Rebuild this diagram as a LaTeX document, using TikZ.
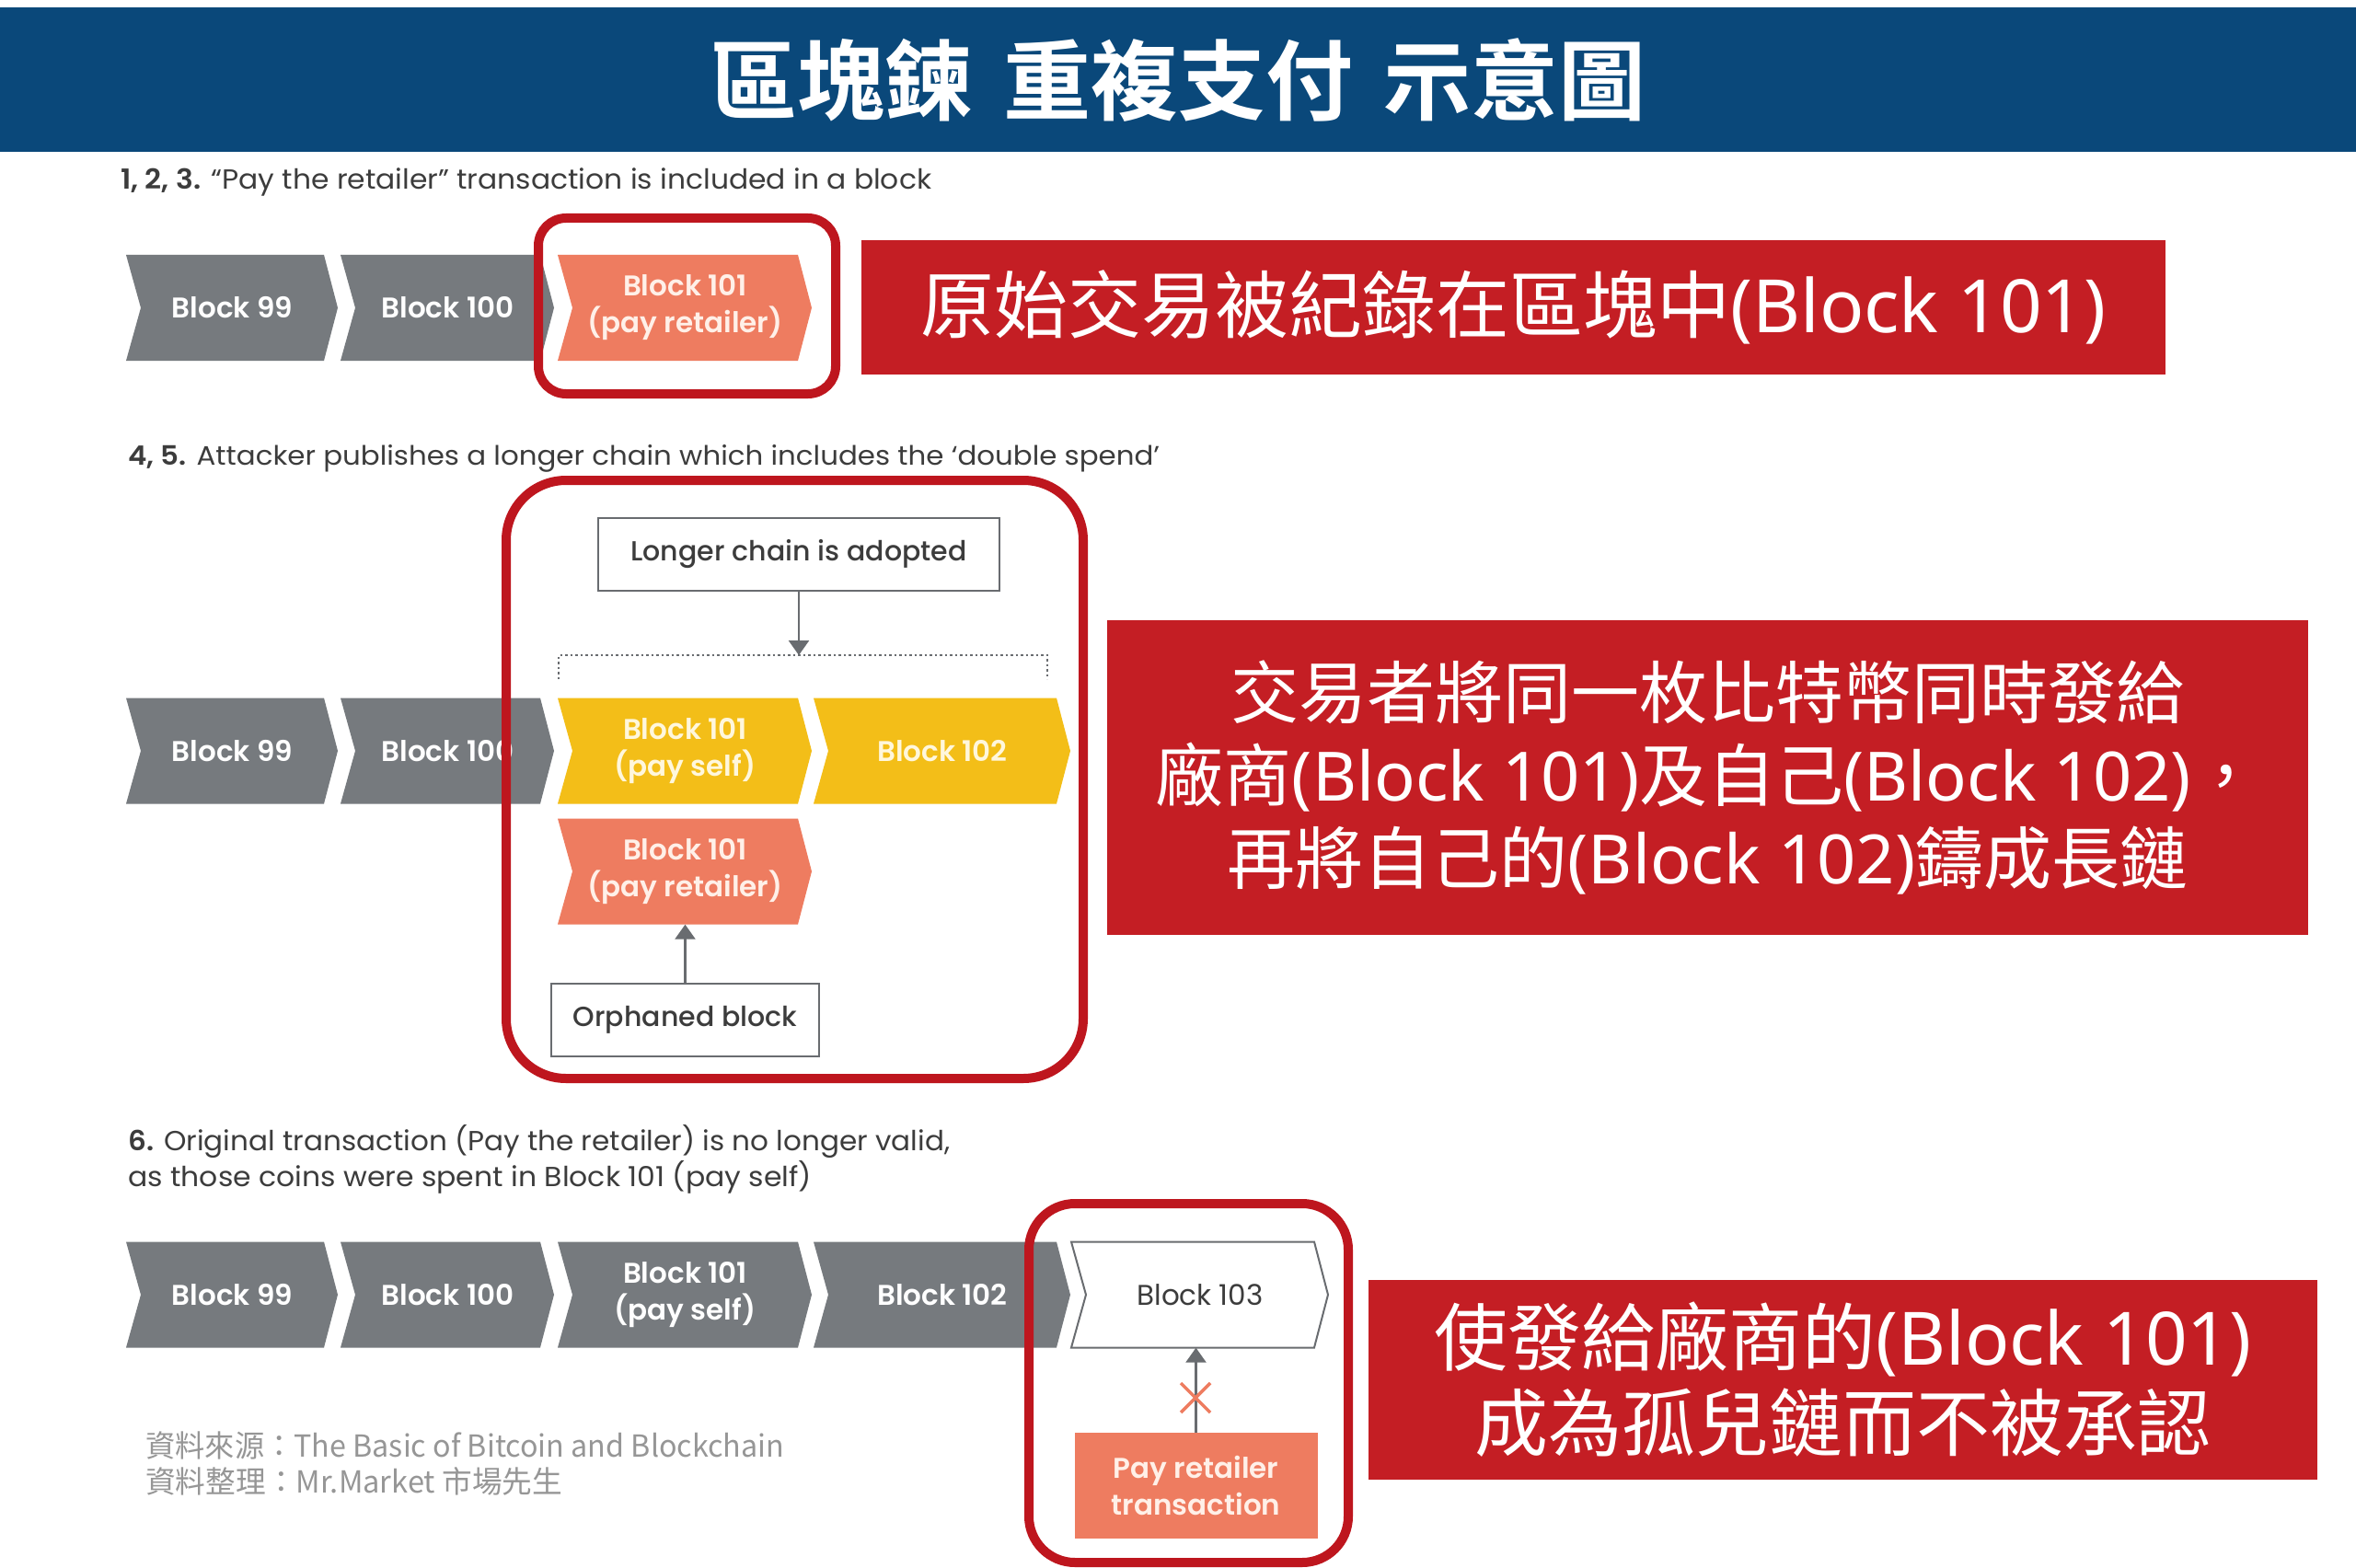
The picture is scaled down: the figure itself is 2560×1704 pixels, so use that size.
\documentclass[tikz,border=0pt]{standalone}
\usepackage{fontspec}
\usepackage{graphicx}
\usetikzlibrary{arrows.meta}
\newfontfamily\cjk{Noto Sans CJK TC}[BoldFont={Noto Sans CJK TC Bold}]
\newfontfamily\lat{Noto Sans}
\newfontfamily\pop{Poppins}[BoldFont={Poppins SemiBold}]
\newfontfamily\popm{Poppins Medium}
\definecolor{titleblue}{RGB}{10,72,122}
\definecolor{boxred}{RGB}{196,30,36}
\definecolor{hired}{RGB}{190,22,30}
\definecolor{chgray}{RGB}{118,122,126}
\definecolor{chyellow}{RGB}{243,190,24}
\definecolor{chsalmon}{RGB}{238,124,96}
\definecolor{txtgray}{RGB}{60,60,60}
\definecolor{srcgray}{RGB}{150,150,150}
\definecolor{linegray}{RGB}{105,108,112}
\definecolor{cream}{RGB}{255,240,232}
\definecolor{ycream}{RGB}{255,247,220}
\tikzset{
  blktext/.style={inner sep=0pt, align=center, font=\pop\bfseries\fontsize{31}{40}\selectfont, text=white},
  gchev/.style={fill=chgray},
  ychev/.style={fill=chyellow},
  schev/.style={fill=chsalmon},
  wchev/.style={fill=white, draw=linegray, line width=2pt},
  redbox/.style={fill=boxred, text=white, inner sep=0pt, align=center},
  hilite/.style={draw=hired, line width=10pt},
  infobox/.style={draw=linegray, fill=white, line width=2pt, inner sep=0pt, font=\popm\fontsize{30}{36}\selectfont, text=txtgray},
  arr/.style={draw=linegray, line width=2.5pt, -{Triangle[length=16pt,width=22pt]}},
  subt/.style={anchor=west, inner sep=0pt, text=txtgray},
  src/.style={anchor=west, inner sep=0pt, text=srcgray, font=\cjk\fontsize{33}{40}\selectfont},
}
\newcommand\chev[6]{%
  \path[#5] (#2,#4-57.5) -- (#3,#4-57.5) -- (#3+15,#4) -- (#3,#4+57.5) -- (#2,#4+57.5) -- (#2+16,#4) -- cycle;
  \node[blktext, minimum width={#3-#2}, minimum height=115pt] (#1) at ({(#2+#3+16)/2},#4) {#6};
}
\begin{document}
\begin{tikzpicture}[x=1pt,y=-1pt]
\useasboundingbox (0,0) rectangle (2560,1704);
\fill[white] (0,0) rectangle (2560,1704);
% title
\fill[titleblue] (0,8) rectangle (2560,165);
\node[inner sep=0pt, text=white, font=\cjk\bfseries\fontsize{95}{100}\selectfont] (title) at (1280,87) {區塊鍊\hspace{0.35em}重複支付\hspace{0.35em}示意圖};
% subtitles
\node[subt] (s1) at (131,198) {\resizebox{881pt}{\height}{\pop\fontsize{30}{36}\selectfont\textbf{1, 2, 3.} “Pay the retailer” transaction is included in a block}};
\node[subt] (s2) at (139,498) {\resizebox{1121pt}{\height}{\pop\fontsize{29}{36}\selectfont\textbf{4, 5.} Attacker publishes a longer chain which includes the ‘double spend’}};
\node[subt] (s3a) at (139,1241) {\resizebox{893pt}{\height}{\pop\fontsize{30}{36}\selectfont\textbf{6.} Original transaction (Pay the retailer) is no longer valid,}};
\node[subt] (s3b) at (139,1279) {\resizebox{743pt}{\height}{\pop\fontsize{30}{36}\selectfont as those coins were spent in Block 101 (pay self)}};
% row 1
\chev{a99}{137}{352}{334.5}{gchev}{Block 99}
\chev{a100}{370}{587}{334.5}{gchev}{Block 100}
\chev{a101}{606}{867}{334.5}{schev}{\textcolor{cream}{Block 101}\\\textcolor{cream}{(pay retailer)}}
\node[redbox, minimum width=1417pt, minimum height=146pt, font=\fontsize{80}{90}\selectfont] (rb1) at (1644.5,334) {{\cjk 原始交易被紀錄在區塊中}{\lat (Block 101)}};
% row 2
\node[infobox, minimum width=436pt, minimum height=79pt] (lc) at (868,602.5) {Longer chain is adopted};
\coordinate (br) at (868,712);
\coordinate (brl) at (607,712);
\coordinate (brr) at (1138,712);
\draw[linegray, line width=2.5pt, dash pattern=on 2.5pt off 3pt] ([yshift=-26pt]brl) -- (brl) -- (brr) -- ([yshift=-26pt]brr);
\draw[arr] (lc.south) -- (br);
\chev{b99}{137}{352}{816}{gchev}{Block 99}
\chev{b100}{370}{587}{816}{gchev}{Block 100}
\chev{b101s}{606}{867}{816}{ychev}{\textcolor{ycream}{Block 101}\\\textcolor{ycream}{(pay self)}}
\chev{b102}{884}{1148}{816}{ychev}{\textcolor{ycream}{Block 102}}
\chev{b101r}{606}{867}{947}{schev}{\textcolor{cream}{Block 101}\\\textcolor{cream}{(pay retailer)}}
\node[infobox, minimum width=291pt, minimum height=79pt] (orph) at (744.5,1108.5) {Orphaned block};
\draw[arr] (orph.north) -- (b101r.south);
\node[redbox, minimum width=1305pt, minimum height=342pt, font=\fontsize{74}{90}\selectfont] (rb2) at (1855.5,845) {{\cjk 交易者將同一枚比特幣同時發給}\\{\cjk 廠商}{\lat (Block 101)}{\cjk 及自己}{\lat (Block 102)}{\cjk ，}\\{\cjk 再將自己的}{\lat (Block 102)}{\cjk 鑄成長鏈}};
% row 3
\chev{c99}{137}{352}{1407}{gchev}{Block 99}
\chev{c100}{370}{587}{1407}{gchev}{Block 100}
\chev{c101}{606}{867}{1407}{gchev}{Block 101\\(pay self)}
\chev{c102}{884}{1148}{1407}{gchev}{Block 102}
\chev{c103}{1164}{1428}{1407}{wchev}{\mdseries\textcolor{txtgray}{Block 103}}
\node[fill=chsalmon, inner sep=0pt, align=center, minimum width=264pt, minimum height=115pt, font=\pop\bfseries\fontsize{31}{40}\selectfont, text=cream] (prt) at (1299.5,1614.5) {Pay retailer\\transaction};
\draw[arr] (prt.north) -- (prt.north |- c103.south);
\draw[chsalmon, line width=3.5pt] (1283,1503) -- (1315,1535) (1283,1535) -- (1315,1503);
\node[redbox, minimum width=1031pt, minimum height=217pt, font=\fontsize{80}{93}\selectfont] (rb3) at (2002.5,1499.5) {{\cjk 使發給廠商的}{\lat (Block 101)}\\{\cjk 成為孤兒鏈而不被承認}};
% source
\node[src] (src1) at (158,1571) {\resizebox{694pt}{\height}{資料來源：The Basic of Bitcoin and Blockchain}};
\node[src] (src2) at (158,1610) {\resizebox{453pt}{\height}{資料整理：Mr.Market 市場先生}};
% highlights
\draw[hilite, rounded corners=30pt] (585,237) rectangle (908,428);
\draw[hilite, rounded corners=65pt] (550,522) rectangle (1177,1172);
\draw[hilite, rounded corners=50pt] (1118,1308) rectangle (1465,1698);
\end{tikzpicture}
\end{document}
